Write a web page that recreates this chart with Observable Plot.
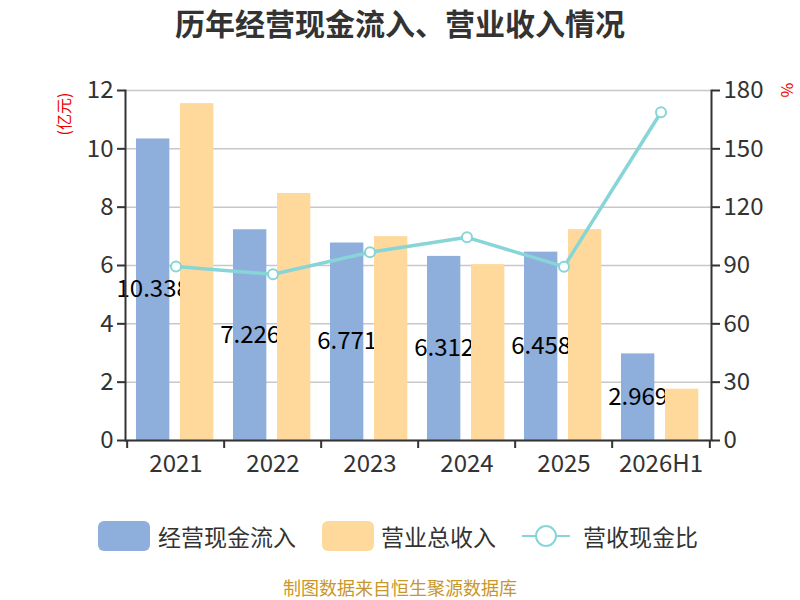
<!DOCTYPE html>
<html><head><meta charset="utf-8">
<script src="https://cdn.jsdelivr.net/npm/d3@7"></script>
<script src="https://cdn.jsdelivr.net/npm/@observablehq/plot@0.6"></script>
<style>
body{margin:0;background:#fff;font-family:"Noto Sans CJK SC","Noto Sans",sans-serif;}
#wrap{position:relative;width:800px;height:600px;overflow:hidden;}
#wrap svg{position:absolute;left:0;top:0;}
.abs{position:absolute;white-space:nowrap;}
#title{left:0;width:800px;top:1px;text-align:center;font-size:30px;font-weight:bold;color:#333;line-height:42px;}
.unit{color:#e00;font-size:16px;line-height:16px;}
.leg{font-size:23px;color:#333;line-height:30px;}
.sw{border-radius:6px;width:52px;height:30px;}
#foot{left:0;width:800px;top:577px;text-align:center;font-size:18px;color:#C9962B;line-height:20px;}
</style></head>
<body><div id="wrap">
<div id="title" class="abs">历年经营现金流入、营业收入情况</div>
<div class="abs unit" style="left:42px;top:106px;transform:rotate(-90deg);transform-origin:center;">(亿元)</div>
<div class="abs unit" style="left:781px;top:82px;transform:rotate(90deg);">%</div>
<div class="abs sw" style="left:98px;top:521px;background:#8EAEDB;"></div>
<div class="abs leg" style="left:158px;top:521px;">经营现金流入</div>
<div class="abs sw" style="left:322px;top:521px;background:#FFD99B;"></div>
<div class="abs leg" style="left:381px;top:521px;">营业总收入</div>
<svg class="abs" style="left:520px;top:521px" width="52" height="30"><line x1="2" y1="15" x2="50" y2="15" stroke="#88D5D8" stroke-width="2"/><circle cx="26" cy="15" r="10" fill="#fff" stroke="#88D5D8" stroke-width="2"/></svg>
<div class="abs leg" style="left:583px;top:521px;">营收现金比</div>
<div id="foot" class="abs">制图数据来自恒生聚源数据库</div>
</div>
<script>
const years = ["2021","2022","2023","2024","2025","2026H1"];
const cashIn = [10.338, 7.226, 6.771, 6.312, 6.458, 2.969];
const revenue = [11.55, 8.47, 6.99, 6.03, 7.23, 1.76];
const ratio = [89.5, 85.5, 96.8, 104.5, 89.4, 168.8];
const leftTicks = [0,2,4,6,8,10,12];
const rightTicks = [0,30,60,90,120,150,180];

const data = years.map((y,i)=>({year:y, cash:cashIn[i], rev:revenue[i], ratio:ratio[i]}));
const W = 800, H = 600, mL = 125, mR = 89, mT = 90, mB = 160;
const bw = (W - mL - mR) / years.length;
const scaleR = 180/12;
const axisColor = "#333";
const font = "Noto Sans CJK SC";

const plot = Plot.plot({
  width: W, height: H,
  marginLeft: mL, marginRight: mR, marginTop: mT, marginBottom: mB,
  style: {fontFamily: font, background: "transparent"},
  x: {type: "band", domain: years, padding: 0, axis: null},
  y: {domain: [0, 12], axis: null},
  marks: [
    Plot.gridY(leftTicks, {stroke: "#c8c8c8", strokeOpacity: 1, strokeWidth: 1.5}),
    Plot.barY(data, {x: "year", y: "cash", fill: "#8EAEDB", insetLeft: 9, insetRight: bw - 43}),
    Plot.text(data, {x: "year", y: d => d.cash/2, text: d => d.cash.toFixed(3), dx: -(bw/2 - 26), fill: "#000", fontSize: 24, fontFamily: font}),
    Plot.barY(data, {x: "year", y: "rev", fill: "#FFD99B", insetLeft: 53, insetRight: bw - 87}),
    Plot.ruleY([0], {stroke: axisColor, strokeWidth: 2}),
    Plot.frame({anchor: "left", stroke: axisColor, strokeWidth: 2}),
    Plot.frame({anchor: "right", stroke: axisColor, strokeWidth: 2}),
    Plot.ruleX(data, {x: "year", dx: -bw/2, y1: 0, y2: 0, insetBottom: -8, stroke: axisColor, strokeWidth: 2}),
    Plot.ruleX(data.slice(-1), {x: "year", dx: bw/2, y1: 0, y2: 0, insetBottom: -8, stroke: axisColor, strokeWidth: 2}),
    Plot.axisX({tickSize: 0, tickPadding: 14, fontSize: 24, color: axisColor, label: null}),
    Plot.axisY(leftTicks, {anchor: "left", tickSize: 8, tickPadding: 4, fontSize: 24, color: axisColor, strokeWidth: 2, label: null}),
    Plot.axisY(rightTicks.map(t => t/scaleR), {anchor: "right", tickSize: 8, tickPadding: 4, fontSize: 24, color: axisColor, strokeWidth: 2, tickFormat: d => Math.round(d*scaleR), label: null}),
    Plot.line(data, {x: "year", y: d => d.ratio/scaleR, stroke: "#88D5D8", strokeWidth: 3.5}),
    Plot.dot(data, {x: "year", y: d => d.ratio/scaleR, r: 5, fill: "#fff", stroke: "#88D5D8", strokeWidth: 2})
  ]
});
document.getElementById("wrap").prepend(plot);
</script>
</body></html>
